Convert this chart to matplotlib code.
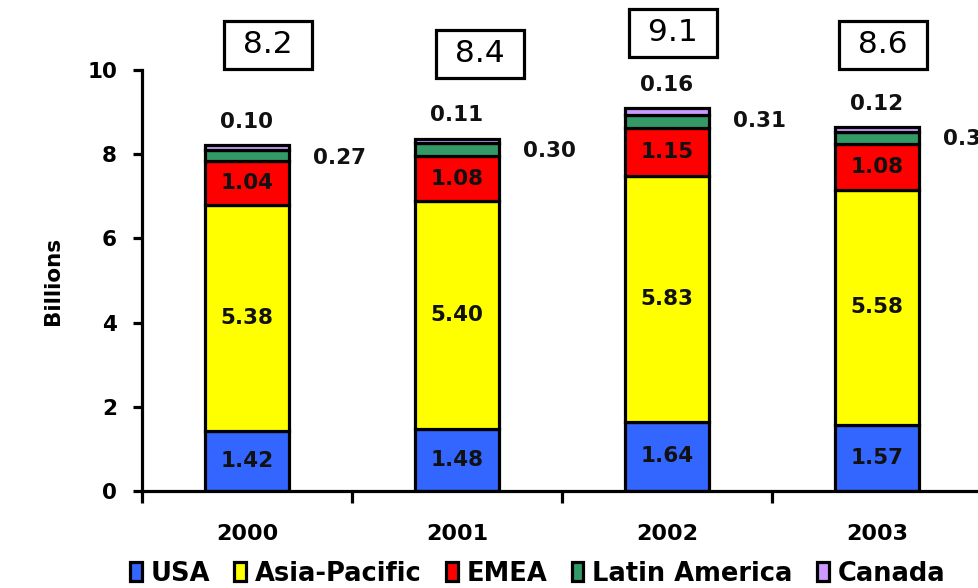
import matplotlib
matplotlib.use("Agg")
import matplotlib.pyplot as plt
import numpy as np

plt.rcParams['font.family'] = ['DejaVu Sans']

years = ["2000", "2001", "2002", "2003"]
regions = ["USA", "Asia-Pacific", "EMEA", "Latin America", "Canada"]
usa = [1.42, 1.48, 1.64, 1.57]
asia_pacific = [5.38, 5.40, 5.83, 5.58]
emea = [1.04, 1.08, 1.15, 1.08]
latin_america = [0.27, 0.30, 0.31, 0.30]
canada = [0.10, 0.11, 0.16, 0.12]
totals = ["8.2", "8.4", "9.1", "8.6"]

colors = ["#3366FF", "#FFFF00", "#FF0000", "#339966", "#CC99FF"]
# placement of the boxed totals (x offset from bar centre, y in data units)
box_dx = [0.10, 0.11, 0.03, 0.03]
box_y = [10.6, 10.38, 10.88, 10.6]

fig = plt.figure(figsize=(9.79, 5.88), dpi=100)
ax = fig.add_axes([0.145, 0.165, 0.858, 0.716])

x = np.arange(len(years)) + 0.5
series = [usa, asia_pacific, emea, latin_america, canada]
bottom = np.zeros(len(years))
for vals, col, name in zip(series, colors, regions):
    ax.bar(x, vals, width=0.4, bottom=bottom, color=col, edgecolor="black",
           linewidth=2.3, label=name)
    bottom = bottom + np.array(vals)

lbl = dict(fontsize=15.5, fontweight="bold", color="#111111")

# labels inside the three big segments
base = np.zeros(len(years))
for vals in series[:3]:
    for i, v in enumerate(vals):
        ax.text(x[i], base[i] + v / 2, f"{v:.2f}", ha="center", va="center", **lbl)
    base = base + np.array(vals)

for i in range(len(years)):
    ax.text(x[i], bottom[i] + 0.55, f"{canada[i]:.2f}", ha="center",
            va="center", **lbl)
    ax.text(x[i] + 0.44, bottom[i] - 0.3, f"{latin_america[i]:.2f}",
            ha="center", va="center", **lbl)
    ax.text(x[i] + box_dx[i], box_y[i], " " + totals[i] + " ", ha="center",
            va="center", fontsize=22.5, clip_on=False,
            bbox=dict(boxstyle="square,pad=0.3", fc="white", ec="black", lw=2.3))

ax.set_xlim(0, 4)
ax.set_ylim(0, 10)
ax.set_yticks([0, 2, 4, 6, 8, 10])
ax.set_xticks([0, 1, 2, 3, 4])
ax.set_xticklabels([])
ax.set_xticks(x, minor=True)
ax.set_xticklabels(years, minor=True)
ax.tick_params(axis="x", which="major", direction="out", length=8.6, width=2.3)
ax.tick_params(axis="x", which="minor", length=0, pad=24, labelsize=16)
ax.tick_params(axis="y", direction="out", length=6.5, width=2.3, pad=11.5,
               labelsize=15.5)
for lab in ax.get_xticklabels(minor=True) + ax.get_yticklabels():
    lab.set_fontweight("bold")

for s in ["top", "right"]:
    ax.spines[s].set_visible(False)
for s in ["left", "bottom"]:
    ax.spines[s].set_linewidth(2.3)

ax.set_ylabel("Billions", fontsize=15.5, fontweight="bold", labelpad=17)

handles, labels = ax.get_legend_handles_labels()
fig.legend(handles, labels, loc="lower left", bbox_to_anchor=(0.117, -0.024),
           ncol=5, frameon=False, handlelength=0.45, handleheight=0.75,
           handletextpad=0.35, columnspacing=0.95, borderaxespad=0.2,
           prop=dict(size=18.5, weight="bold"))

fig.savefig("out.png", dpi=100)
